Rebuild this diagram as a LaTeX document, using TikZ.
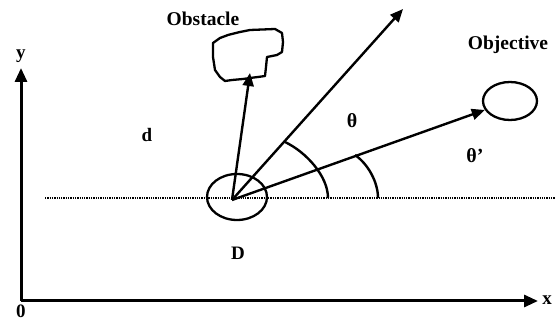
\documentclass[tikz,border=0pt]{standalone}
\usepackage{fontspec}
\setmainfont{Liberation Serif}
\usetikzlibrary{arrows.meta,shapes.geometric}
\begin{document}
\begin{tikzpicture}[x=1pt,y=-1pt,
  axis/.style={line width=3pt,-{Triangle[length=14pt,width=12pt]}},
  vec/.style={line width=2.4pt,-{Triangle[length=13pt,width=11pt]}},
  anglearc/.style={line width=2.4pt},
  blob/.style={draw,line width=2.3pt,ellipse,inner sep=0pt},
  lbl/.style={font=\fontsize{19}{21}\selectfont\bfseries,inner sep=0pt},
  word/.style={font=\fontsize{19.5}{22}\selectfont\bfseries,inner sep=0pt},
  greek/.style={font=\fontsize{20}{22}\selectfont\bfseries,inner sep=0pt}]
\useasboundingbox (0,0) rectangle (555,320);
% axes
\coordinate (orig) at (21,301);
\coordinate (ytip) at (21,68);
\coordinate (xtip) at (538,301);
\draw[axis] (orig) -- (ytip);
\draw[axis] (orig) -- (xtip);
\node[lbl] (ylab) at (21,56) {y};
\node[lbl] (xlab) at (547,300) {x};
\node[lbl] (zero) at (21,311) {0};
% dotted baseline
\coordinate (dl) at (45,198);
\coordinate (dr) at (555,198);
\draw[line width=2.2pt,dash pattern=on 1.3pt off 1pt] (dl) -- (dr);
% robot ellipse
\node[blob,minimum width=60pt,minimum height=46pt] (D) at (237,197) {};
\coordinate (O) at (232,200);
\node[lbl] (Dlab) at (238,253) {D};
\node[lbl] (dlab) at (147,135) {d};
% objective
\node[blob,minimum width=54pt,minimum height=38pt] (obj) at (510,101) {};
\node[word] (objlab) at (508,45) {Objective};
% obstacle
\draw[line width=2.3pt,line join=round]
  (213,43) -- (220,38) -- (228,35) -- (240,32) -- (250,30) -- (275,29)
  -- (282,33) -- (283,42) -- (282,52) -- (277,55) -- (267,57) -- (266,67)
  -- (265,76) -- (258,77) -- (250,78) -- (243,79) -- (232,80) -- (225,81)
  -- (220,77) -- (215,70) -- (213,57) -- cycle;
\node[word] (obslab) at (203,19) {Obstacle};
\coordinate (obstip) at (250,73);
\coordinate (uptip) at (403,9);
% vectors
\draw[vec] (O) -- (obstip);
\draw[vec] (O) -- (uptip);
\draw[vec] (O) -- (obj);
% angle arcs
\draw[anglearc] (328,198) .. controls (328,176) and (306,152) .. (285,142);
\draw[anglearc] (378,198) .. controls (378,182) and (368,164) .. (355,155);
\node[greek] (th) at (352,121) {θ};
\node[greek] (thp) at (475,156) {θ’};
\end{tikzpicture}
\end{document}
